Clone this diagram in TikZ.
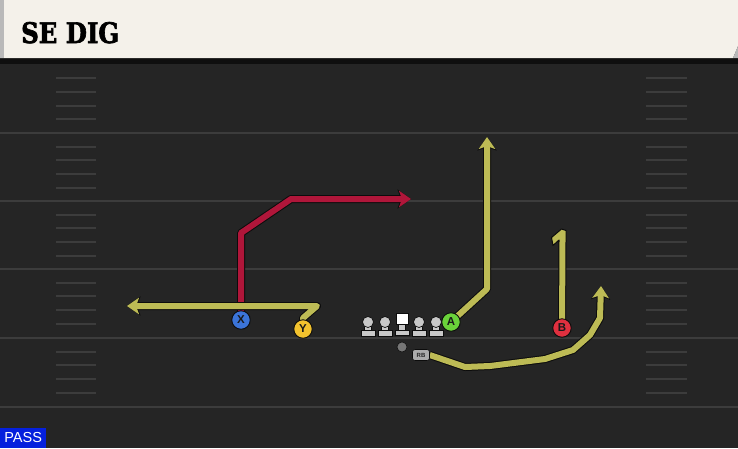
\documentclass[tikz,border=0pt]{standalone}
\usepackage{fontspec}
\setmainfont{Liberation Sans}
\newfontfamily\titlefont{DejaVu Serif}[BoldFeatures={FakeBold=2.5}]
\usetikzlibrary{arrows.meta}
\definecolor{fieldbg}{HTML}{252525}
\definecolor{fieldline}{HTML}{3C3C3C}
\definecolor{titlebg}{HTML}{F4F1EA}
\definecolor{routeY}{HTML}{BDBB55}
\definecolor{routeR}{HTML}{B0163A}
\definecolor{outl}{HTML}{0C0C0C}
\definecolor{pX}{HTML}{3B74D8}
\definecolor{pY}{HTML}{F2C22E}
\definecolor{pA}{HTML}{6AD23A}
\definecolor{pB}{HTML}{E0303F}
\definecolor{passblue}{HTML}{0520DD}
\definecolor{olgray}{HTML}{C8C8C8}
\definecolor{qbgray}{HTML}{767676}
\pgfdeclarelayer{field}
\pgfdeclarelayer{routes}
\pgfsetlayers{field,routes,main}
\newcommand\droute[4]{%
  \draw[outl, line width=8pt, line join=round, #2] #4;
  \draw[#1, line width=6pt, line join=round, #3] #4;}
\tikzset{
  player/.style={circle, draw=outl, line width=0.9pt, minimum size=18.5pt, inner sep=0pt,
    font=\bfseries\fontsize{11.5}{11.5}\selectfont, text=black!90},
  yardline/.style={fieldline, line width=2.8pt},
  hashmark/.style={fieldline, line width=2pt},
  tipout/.style={-{Stealth[length=13.5pt,width=19pt,inset=3.5pt]}},
  tipin/.style={-{Stealth[length=12pt,width=16.5pt,inset=3pt]}},
  plain/.style={},
  pics/lineman/.style={code={
    \fill[olgray, draw=outl, line width=0.7pt] (-3.5,0) rectangle (3.5,9);
    \fill[olgray, draw=outl, line width=0.7pt] (-7,8.5) rectangle (7,14.5);
    \fill[olgray, draw=outl, line width=0.7pt] (0,0) circle (5.5);
  }},
  pics/center/.style={code={
    \fill[olgray, draw=outl, line width=0.7pt] (-3.5,0) rectangle (3.5,8.5);
    \fill[olgray, draw=outl, line width=0.7pt] (-7,8) rectangle (7,13.5);
    \fill[white, draw=outl, line width=0.7pt] (-6,-8.5) rectangle (6,2.5);
  }}
}
\begin{document}
\begin{tikzpicture}[x=1pt,y=-1pt]
\useasboundingbox (0,0) rectangle (738,448);
\begin{pgfonlayer}{field}
\fill[fieldbg] (0,0) rectangle (738,448);
\fill[outl!90!fieldbg] (0,56) rectangle (738,64);
\fill[titlebg] (0,0) -- (738,0) -- (738,46) -- (733,58) -- (0,58) -- cycle;
\fill[gray!55] (733,58) -- (738,46) -- (738,58) -- cycle;
\fill[gray!55] (0,0) rectangle (4,58);
\foreach \yy in {133,201,269,338,407} \draw[yardline] (0,\yy) -- (738,\yy);
\foreach \yb in {64.5,133,201,269,338}
  \foreach \k in {1,2,3,4} {
    \draw[hashmark] (56,\yb+\k*13.7) -- (96,\yb+\k*13.7);
    \draw[hashmark] (646,\yb+\k*13.7) -- (687,\yb+\k*13.7);
  }
\end{pgfonlayer}

\node[anchor=base west, inner sep=0pt] (title) at (21,43)
  {\resizebox{98pt}{21pt}{\titlefont\bfseries SE DIG}};
\node[fill=passblue, text=white, anchor=south west, minimum width=46pt, minimum height=20pt,
  inner sep=0pt, font=\fontsize{14.5}{14.5}\selectfont] (pass) at (0,448) {PASS};

% players
\node[player, fill=pX] (X) at (241,320) {X};
\node[player, fill=pY] (Y) at (303,329) {Y};
\node[player, fill=pA] (A) at (451,322) {A};
\node[player, fill=pB] (B) at (562,328) {B};
\node[circle, fill=qbgray, draw=outl, line width=0.5pt, minimum size=10pt, inner sep=0pt] (QB) at (402,347) {};
\node[fill=gray!65, draw=outl, line width=0.6pt, rounded corners=2.5pt, minimum width=17pt,
  minimum height=11pt, inner sep=0pt, text=black!85, font=\bfseries\fontsize{6}{6}\selectfont] (RB) at (421,355) {RB};
\pic at (368,322) {lineman};
\pic at (385,322) {lineman};
\pic at (402,322) {center};
\pic at (419,322) {lineman};
\pic at (436,322) {lineman};

% route end points
\coordinate (xe) at (411,199);
\coordinate (ye) at (127,306);
\coordinate (ae) at (487,137);
\coordinate (be) at (562.5,240);
\coordinate (re) at (601,286);

\begin{pgfonlayer}{routes}
\droute{routeR}{tipout}{tipin}{(X.center) -- (241,233) -- (291,199) -- (xe)}
\droute{routeY}{tipout}{tipin}{(Y.center) -- (303,318) -- (317,306) -- (ye)}
\droute{routeY}{tipout}{tipin}{(A.center) -- (487,289) -- (ae)}
\droute{routeY}{plain}{plain}{(B.center) -- (be)}
\droute{routeY}{tipout}{tipin}{(RB.east) -- (465,367) -- (490,366) -- (545,359) -- (573,350) -- (590,335) -- (600,318) -- (re)}
% half arrow (hook) at the end of B's route
\filldraw[fill=routeY, draw=outl, line width=1pt, line join=round]
  ([shift={(3.5,2)}]be) -- ([shift={(3.5,-9.5)}]be) -- ([shift={(-1,-11)}]be)
  -- ([shift={(-11,-2.5)}]be) -- ([shift={(-9.5,5.5)}]be) -- ([shift={(-3.5,0)}]be)
  -- ([shift={(-3.5,2)}]be);
\fill[routeY] ([shift={(-2.9,-1)}]be) rectangle ([shift={(2.9,4)}]be);
\end{pgfonlayer}
\end{tikzpicture}
\end{document}
